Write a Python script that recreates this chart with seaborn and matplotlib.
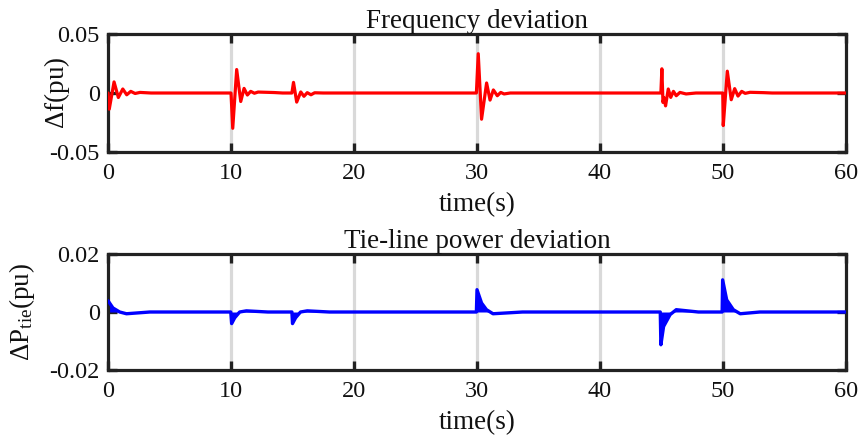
import numpy as np
import pandas as pd
import matplotlib
matplotlib.use("Agg")
import matplotlib.pyplot as plt
import seaborn as sns

# Frequency deviation response (time in s, deviation in pu), peak by peak
freq_t = [0.0, 0.10, 0.49, 0.84, 1.20, 1.52, 1.85, 2.20, 2.60, 3.50,
          10.0, 10.14, 10.46, 10.79, 11.06, 11.33, 11.60, 11.90, 12.20, 13.50, 14.20,
          14.95, 15.08, 15.34, 15.67, 15.93, 16.20, 16.50, 16.80, 17.50,
          29.95, 30.10, 30.37, 30.78, 31.06, 31.33, 31.65, 31.93, 32.20, 32.70,
          44.95, 45.03, 45.12, 45.20, 45.33, 45.55, 45.75, 45.97, 46.20, 46.50, 47.00, 47.80,
          49.98, 50.02, 50.35, 50.67, 50.95, 51.22, 51.52, 51.80, 52.20, 53.30, 54.00,
          60.0]
freq_v = [0.0, -0.0137, 0.0094, -0.0038, 0.0034, -0.0015, 0.0014, -0.0004, 0.0005, 0.0,
          0.0, -0.0299, 0.0199, -0.0072, 0.0039, -0.0017, 0.0014, -0.0002, 0.0008, 0.0004, 0.0,
          0.0, 0.0090, -0.0077, 0.0009, -0.0028, 0.0003, -0.0015, 0.0002, 0.0,
          0.0, 0.0333, -0.0222, 0.0085, -0.0060, 0.0026, -0.0023, 0.0005, -0.0008, 0.0,
          0.0, 0.0205, -0.0080, -0.0040, -0.0109, 0.0034, -0.0037, 0.0014, -0.0023, 0.0005, -0.0008, 0.0,
          0.0, -0.0276, 0.0185, -0.0057, 0.0037, -0.0026, 0.0014, -0.0003, 0.0006, 0.0003, 0.0,
          0.0]

# Tie-line power deviation envelope (time in s, deviation in pu)
tie_t = [0.0, 0.40, 0.95, 1.50, 3.40,
         9.98, 10.05, 10.30, 10.70, 11.25, 13.00,
         14.95, 15.00, 15.25, 15.65, 16.20, 18.00,
         29.95, 30.00, 30.37, 30.77, 31.30, 33.70,
         44.90, 44.95, 45.17, 45.70, 46.20, 48.00,
         49.93, 49.97, 50.30, 50.84, 51.40, 53.00,
         60.0]
tie_v = [0.0039, 0.0014, 0.0, -0.0006, 0.0,
         0.0, -0.0040, -0.0020, 0.0, 0.0004, 0.0,
         0.0, -0.0040, -0.0020, 0.0, 0.0004, 0.0,
         0.0, 0.0077, 0.0031, 0.0008, -0.0006, 0.0,
         0.0, -0.0113, -0.0050, -0.0009, 0.0008, 0.0,
         0.0, 0.0111, 0.0042, 0.0008, -0.0006, 0.0,
         0.0]

x_ticks = [0, 10, 20, 30, 40, 50, 60]
freq_ticks = [-0.05, 0, 0.05]
freq_labels = ["-0.05", "0", "0.05"]
tie_ticks = [-0.02, 0, 0.02]
tie_labels = ["-0.02", "0", "0.02"]

sns.set_theme(style="white")
plt.rcParams["font.family"] = ["Liberation Serif", "DejaVu Serif"]
plt.rcParams["mathtext.fontset"] = "custom"
plt.rcParams["mathtext.rm"] = "Liberation Serif"
plt.rcParams["mathtext.it"] = "Liberation Serif:italic"

fig = plt.figure(figsize=(8.58, 4.41), dpi=100)
ax1 = fig.add_axes([0.1259, 0.6553, 0.8601, 0.2676])
ax2 = fig.add_axes([0.1259, 0.1610, 0.8601, 0.2630])

freq_df = pd.DataFrame({"t": freq_t, "df": freq_v})
tie_df = pd.DataFrame({"t": tie_t, "dp": tie_v})

INK = "#111111"


def style_axes(ax, yticks, ylabels, ylim):
    ax.set_xlim(0, 60)
    ax.set_ylim(*ylim)
    ax.set_xticks(x_ticks)
    ax.set_xticklabels([str(v) for v in x_ticks])
    ax.set_yticks(yticks)
    ax.set_yticklabels(ylabels)
    for xv in x_ticks[1:-1]:
        ax.axvline(xv, color="#d9d9d9", lw=2.3, zorder=0)
    ax.tick_params(direction="in", length=6.5, width=2.4, color="#222222",
                   top=True, right=True, bottom=True, left=True,
                   labelsize=17.5, labelcolor=INK)
    ax.tick_params(axis="x", pad=8)
    ax.tick_params(axis="y", pad=6)
    for sp in ax.spines.values():
        sp.set_linewidth(2.3)
        sp.set_color("#222222")
    ax.set_xlabel("time(s)", fontsize=19.5, labelpad=6, color=INK)


sns.lineplot(data=freq_df, x="t", y="df", ax=ax1, color="#ff0000", lw=2.3,
             estimator=None, sort=False, zorder=3)
style_axes(ax1, freq_ticks, freq_labels, (-0.05, 0.05))
ax1.set_title("Frequency deviation", fontsize=19.5, pad=4, color=INK)
ax1.set_ylabel(r"$\Delta$f(pu)", fontsize=19.5, color=INK)
ax1.yaxis.set_label_coords(-0.049, 0.5)

ax2.fill_between(tie_df["t"], tie_df["dp"], 0, color="#0000ff", lw=0, zorder=2)
sns.lineplot(data=tie_df, x="t", y="dp", ax=ax2, color="#0000ff", lw=2.4,
             estimator=None, sort=False, zorder=3)
style_axes(ax2, tie_ticks, tie_labels, (-0.02, 0.02))
ax2.set_title("Tie-line power deviation", fontsize=19.5, pad=4, color=INK)
ax2.set_ylabel(r"$\Delta$P$_{\rm tie}$(pu)", fontsize=19.5, color=INK)
ax2.yaxis.set_label_coords(-0.096, 0.5)

fig.savefig("out.png", dpi=100)
